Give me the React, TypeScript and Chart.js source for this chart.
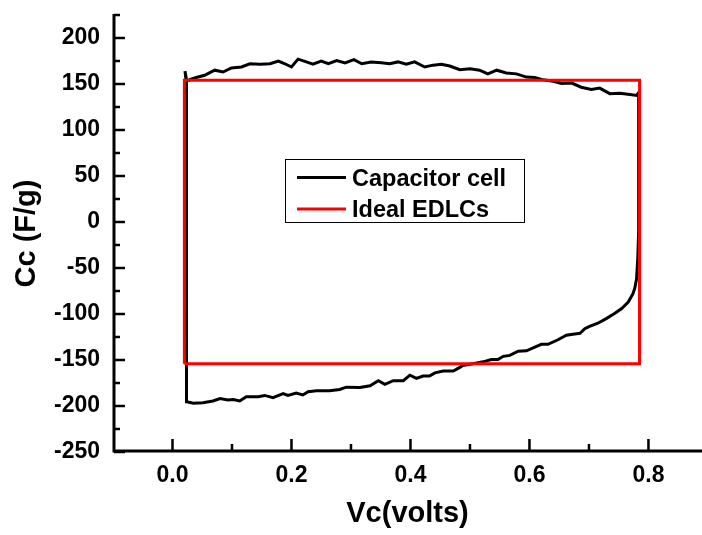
import React, { useEffect, useRef } from "react";
import { Chart, registerables } from "chart.js";

Chart.register(...registerables);

// ---- axis ranges and ticks ----
const X_MIN = -0.1;
const X_MAX = 0.89;
const Y_MIN = -250;
const Y_MAX = 225;
const xMajor = [0, 0.2, 0.4, 0.6, 0.8];
const xMinor = [0.1, 0.3, 0.5, 0.7];
const yMajor = [-250, -200, -150, -100, -50, 0, 50, 100, 150, 200];
const yMinor = [-225, -175, -125, -75, -25, 25, 75, 125, 175, 225];

// ---- series ----
const seriesLabels = ["Capacitor cell", "Ideal EDLCs"];
const seriesColors = ["#000000", "#ff0000"];

// Capacitor cell: closed loop (upper branch left->right, lower branch right->left)
const cellV = [
  0.021, 0.024, 0.030, 0.040, 0.054, 0.071, 0.085, 0.099, 0.116, 0.130,
  0.147, 0.164, 0.178, 0.189, 0.200, 0.211, 0.225, 0.236, 0.250, 0.262,
  0.276, 0.290, 0.305, 0.318, 0.334, 0.351, 0.365, 0.379, 0.393, 0.407,
  0.424, 0.438, 0.452, 0.466, 0.483, 0.500, 0.516, 0.530, 0.545, 0.561,
  0.578, 0.595, 0.609, 0.623, 0.640, 0.654, 0.671, 0.687, 0.704, 0.718,
  0.735, 0.752, 0.769, 0.780, 0.784,
  0.784, 0.783, 0.782, 0.780, 0.777, 0.774, 0.766, 0.755, 0.743, 0.729,
  0.715, 0.701, 0.693, 0.685, 0.673, 0.662, 0.648, 0.631, 0.620, 0.609,
  0.595, 0.581, 0.567, 0.556, 0.547, 0.536, 0.522, 0.505, 0.488, 0.483,
  0.472, 0.455, 0.441, 0.432, 0.421, 0.410, 0.399, 0.388, 0.371, 0.357,
  0.346, 0.332, 0.315, 0.292, 0.281, 0.264, 0.242, 0.228, 0.219, 0.208,
  0.194, 0.186, 0.169, 0.155, 0.144, 0.124, 0.113, 0.102, 0.093, 0.080,
  0.068, 0.051, 0.035, 0.024, 0.0235, 0.021,
];
const cellC = [
  164, 153, 155, 157, 159.5, 165, 163, 167.5, 168.5, 172,
  171.5, 172, 175, 172, 168.5, 177, 174, 171.5, 175, 172,
  175.5, 173, 176.5, 172, 174, 173, 172, 174, 171.5, 174,
  168.5, 170.5, 171.5, 169.5, 165.5, 166.5, 165, 161, 165, 162,
  161, 157.5, 157, 154.5, 153, 150.5, 151, 146.5, 144, 145.5,
  139.5, 140, 138.5, 137.5, 141,
  60, -10, -40, -62, -72, -78, -87, -94, -99.5, -105,
  -110, -113.5, -116, -121, -122, -123, -128, -133, -133, -136,
  -140, -140.5, -145, -146, -149.5, -149.5, -152, -154, -156, -158,
  -162, -162, -164, -167.5, -167.5, -170, -166.5, -172.5, -172.5, -176.5,
  -172.5, -178, -180, -179.5, -182, -183.5, -183.5, -184.5, -188, -186,
  -188.5, -186.5, -191, -188.5, -190, -190, -194.5, -193, -193.5, -192,
  -194.5, -196.5, -197, -195.5, 150, 164,
];

// Ideal EDLC: rectangle
const idealV = [0.02, 0.02, 0.785, 0.785, 0.02];
const idealC = [-154, 154, 154, -154, -154];

const FONT = "'Liberation Sans', Arial, Helvetica, sans-serif";

const toPoints = (xs: number[], ys: number[]) => xs.map((x, i) => ({ x, y: ys[i] }));

const decorPlugin = {
  id: "decor",
  afterDatasetsDraw(chart: any) {
    const ctx = chart.ctx as CanvasRenderingContext2D;
    const { left, right, top, bottom } = chart.chartArea;
    const xs = chart.scales.x;
    const ys = chart.scales.y;
    const ax = left + 1;
    const ay = bottom - 1;
    ctx.save();
    ctx.strokeStyle = "#000";
    ctx.lineWidth = 3;
    ctx.lineCap = "butt";
    ctx.beginPath();
    ctx.moveTo(ax, top - 1);
    ctx.lineTo(ax, ay + 1.5);
    ctx.moveTo(ax - 1.5, ay);
    ctx.lineTo(right, ay);
    ctx.stroke();

    ctx.lineWidth = 2.5;
    ctx.beginPath();
    yMajor.forEach((v) => {
      const p = ys.getPixelForValue(v);
      ctx.moveTo(ax, p);
      ctx.lineTo(ax + 11, p);
    });
    yMinor.forEach((v) => {
      const p = ys.getPixelForValue(v);
      ctx.moveTo(ax, p);
      ctx.lineTo(ax + 6, p);
    });
    xMajor.forEach((v) => {
      const p = xs.getPixelForValue(v);
      ctx.moveTo(p, ay);
      ctx.lineTo(p, ay - 12);
    });
    xMinor.forEach((v) => {
      const p = xs.getPixelForValue(v);
      ctx.moveTo(p, ay);
      ctx.lineTo(p, ay - 7);
    });
    ctx.stroke();
    ctx.restore();
  },
  afterDraw(chart: any) {
    const ctx = chart.ctx as CanvasRenderingContext2D;
    ctx.save();
    // legend box
    const bx = 285.5, by = 159.5, bw = 239, bh = 63;
    ctx.strokeStyle = "#000";
    ctx.lineWidth = 1;
    ctx.strokeRect(bx, by, bw, bh);
    const rows = [177.5, 209];
    ctx.font = `bold 23.5px ${FONT}`;
    ctx.textAlign = "left";
    ctx.textBaseline = "alphabetic";
    chart.data.datasets.forEach((ds: any, i: number) => {
      const y = rows[i];
      ctx.strokeStyle = ds.borderColor;
      ctx.lineWidth = 3;
      ctx.beginPath();
      ctx.moveTo(297, y);
      ctx.lineTo(346, y);
      ctx.stroke();
      ctx.fillStyle = "#000";
      ctx.fillText(ds.label, 352, y + 8);
    });
    ctx.restore();
  },
};

export default function App() {
  const canvasRef = useRef<HTMLCanvasElement | null>(null);

  useEffect(() => {
    const canvas = canvasRef.current;
    if (!canvas) return;
    const chart = new Chart(canvas, {
      type: "scatter",
      data: {
        datasets: [
          {
            label: seriesLabels[0],
            data: toPoints(cellV, cellC),
            showLine: true,
            borderColor: seriesColors[0],
            backgroundColor: seriesColors[0],
            borderWidth: 3,
            pointRadius: 0,
            tension: 0,
            order: 2,
          },
          {
            label: seriesLabels[1],
            data: toPoints(idealV, idealC),
            showLine: true,
            borderColor: seriesColors[1],
            backgroundColor: seriesColors[1],
            borderWidth: 3,
            pointRadius: 0,
            tension: 0,
            order: 1,
          },
        ],
      },
      options: {
        responsive: false,
        animation: false,
        devicePixelRatio: 1,
        layout: { padding: { top: 15, left: 0, right: 0, bottom: 0 } },
        plugins: {
          legend: { display: false },
          tooltip: { enabled: false },
        },
        scales: {
          x: {
            type: "linear",
            min: X_MIN,
            max: X_MAX,
            grid: { display: false, drawTicks: false },
            border: { display: false },
            ticks: {
              stepSize: 0.2,
              includeBounds: false,
              padding: 10,
              color: "#000",
              font: { family: FONT, size: 23, weight: "bold" },
              callback: (v: any) => Number(v).toFixed(1),
            },
            title: {
              display: true,
              text: "Vc(volts)",
              color: "#000",
              font: { family: FONT, size: 29, weight: "bold" },
              padding: { top: 0, bottom: 4 },
            },
            afterFit: (s: any) => {
              s.height = 83;
              s.paddingLeft = 0;
              s.paddingRight = 0;
            },
          },
          y: {
            type: "linear",
            min: Y_MIN,
            max: Y_MAX,
            grid: { display: false, drawTicks: false },
            border: { display: false },
            ticks: {
              stepSize: 50,
              includeBounds: false,
              padding: 13,
              color: "#000",
              font: { family: FONT, size: 23, weight: "bold" },
            },
            title: {
              display: true,
              text: "Cc (F/g)",
              color: "#000",
              font: { family: FONT, size: 29, weight: "bold" },
              padding: { top: 10, bottom: 0 },
            },
            afterFit: (s: any) => {
              s.width = 113;
              s.paddingTop = 0;
              s.paddingBottom = 0;
            },
          },
        },
      } as any,
      plugins: [decorPlugin],
    });
    return () => chart.destroy();
  }, []);

  return (
    <div style={{ position: "fixed", left: 0, top: 0, width: 702, height: 535, background: "#fff" }}>
      <canvas ref={canvasRef} width={702} height={535} style={{ display: "block", width: 702, height: 535 }} />
    </div>
  );
}
